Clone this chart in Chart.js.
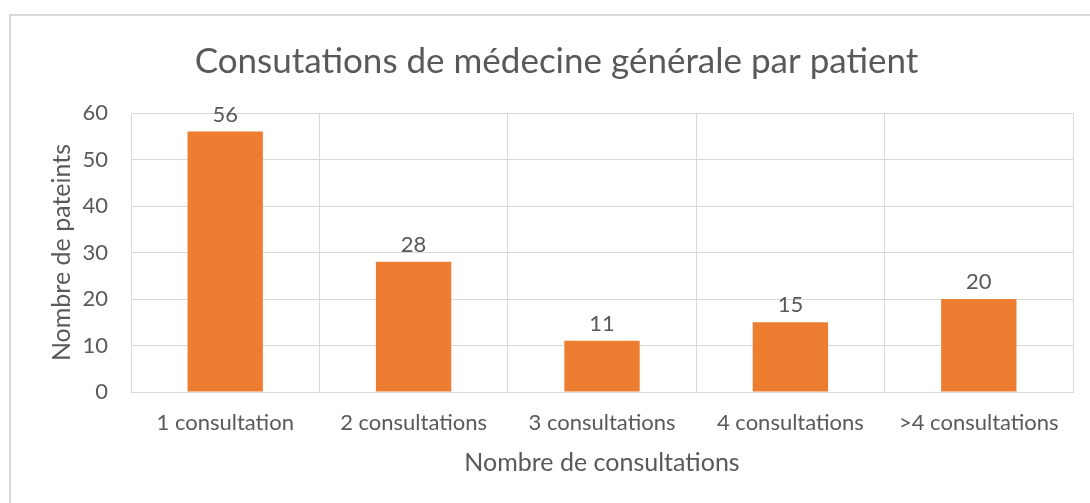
<!DOCTYPE html>
<html lang="fr">
<head>
  <meta charset="UTF-8">
  <title>Consultations par patient</title>
  <script src="https://cdn.jsdelivr.net/npm/chart.js"></script>
  <style>
    html, body { margin: 0; padding: 0; background: #fff; overflow: hidden; }
    .frame { position: absolute; left: 9px; top: 14px; width: 1100px; height: 520px; border: 2px solid #d9d9d9; }
    #chart { position: absolute; left: 0; top: 0; }
  </style>
</head>
<body>
  <div class="frame"></div>
  <canvas id="chart" width="1090" height="503"></canvas>

  <script>
    const categories = ['1 consultation', '2 consultations', '3 consultations', '4 consultations', '>4 consultations']
    const patients = [56, 28, 11, 15, 20]
    const yTicks = [0, 10, 20, 30, 40, 50, 60]

    const textColor = '#595959'
    const gridColor = '#d9d9d9'
    const fontFamily = 'Lato, "Open Sans", sans-serif'

    // draws the value above every bar
    const barValues = {
      id: 'barValues',
      afterDatasetsDraw (chart) {
        const ctx = chart.ctx
        const meta = chart.getDatasetMeta(0)
        ctx.save()
        ctx.fillStyle = textColor
        ctx.font = '22px ' + fontFamily
        ctx.textAlign = 'center'
        ctx.textBaseline = 'bottom'
        meta.data.forEach((bar, i) => {
          ctx.fillText(String(patients[i]), bar.x, bar.y - 6)
        })
        ctx.restore()
      }
    }

    new Chart(document.getElementById('chart'), {
      type: 'bar',
      data: {
        labels: categories,
        datasets: [{
          label: 'Nombre de patients',
          data: patients,
          backgroundColor: '#ed7d31',
          barPercentage: 0.4,
          categoryPercentage: 1
        }]
      },
      options: {
        responsive: false,
        devicePixelRatio: 1,
        animation: false,
        layout: { padding: { left: 40, right: 17, top: 0, bottom: 0 } },
        plugins: {
          legend: { display: false },
          tooltip: { enabled: false },
          title: {
            display: true,
            text: 'Consutations de médecine générale par patient',
            color: textColor,
            font: { family: fontFamily, size: 35, weight: 'normal' },
            padding: { top: 41, bottom: 30 }
          }
        },
        scales: {
          x: {
            grid: { color: gridColor, drawTicks: false, offset: true },
            border: { color: gridColor },
            ticks: { color: textColor, font: { family: fontFamily, size: 22 }, padding: 18, maxRotation: 0 },
            title: {
              display: true,
              text: 'Nombre de consultations',
              color: textColor,
              font: { family: fontFamily, size: 25 },
              padding: { top: 0, bottom: 25 }
            },
            afterFit (scale) { scale.height = 111 }
          },
          y: {
            min: yTicks[0],
            max: yTicks[yTicks.length - 1],
            afterBuildTicks (scale) { scale.ticks = yTicks.map(v => ({ value: v })) },
            grid: { color: gridColor, drawTicks: false },
            border: { color: gridColor },
            ticks: { color: textColor, font: { family: fontFamily, size: 22 }, padding: 23 },
            title: {
              display: true,
              text: 'Nombre de pateints',
              color: textColor,
              font: { family: fontFamily, size: 25 },
              padding: { top: 7, bottom: 0 }
            },
            afterFit (scale) { scale.width = 91 }
          }
        }
      },
      plugins: [barValues]
    })
  </script>
</body>
</html>
